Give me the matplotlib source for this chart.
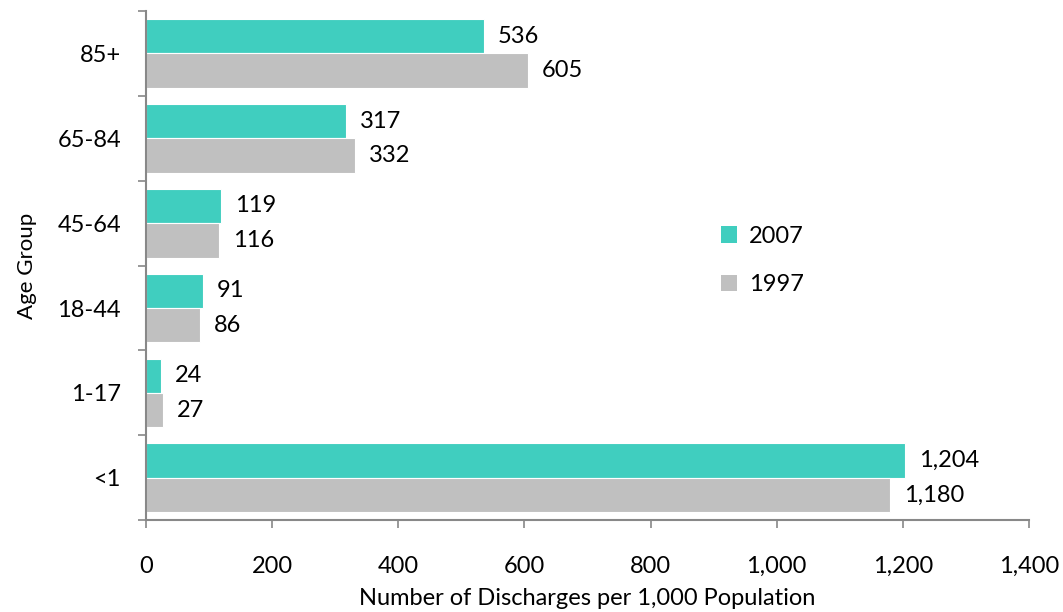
import matplotlib.pyplot as plt
import numpy as np
from matplotlib.patches import Patch

plt.rcParams['font.family'] = ['Lato', 'DejaVu Sans']

groups = ['<1', '1-17', '18-44', '45-64', '65-84', '85+']
vals_2007 = [1204, 24, 91, 119, 317, 536]
vals_1997 = [1180, 27, 86, 116, 332, 605]
teal = '#40CEBF'
grey = '#C0C0C0'
fs = 17

fig = plt.figure(figsize=(10.63, 6.12), dpi=100)
ax = fig.add_axes([0.1373, 0.150, 0.8307, 0.832])

y = np.arange(len(groups))
h = 0.405
b1 = ax.barh(y + h / 2, vals_2007, height=h, color=teal, edgecolor='white', linewidth=0.8)
b2 = ax.barh(y - h / 2, vals_1997, height=h, color=grey, edgecolor='white', linewidth=0.8)

for bars, vals in [(b1, vals_2007), (b2, vals_1997)]:
    for r, v in zip(bars, vals):
        ax.annotate(f'{v:,}', (r.get_width(), r.get_y() + r.get_height() / 2),
                    xytext=(10, 0), textcoords='offset points', va='center', ha='left', fontsize=fs)

ax.set_xlim(0, 1400)
ax.set_ylim(-0.5, len(groups) - 0.5)
ax.set_xticks(np.arange(0, 1401, 200))
ax.set_xticklabels([f'{t:,}' for t in range(0, 1401, 200)])
ax.set_yticks(y)
ax.set_yticklabels(groups)
ax.set_yticks(np.arange(-0.5, len(groups)), minor=True)
ax.tick_params(axis='y', which='major', length=0, pad=18, labelsize=fs)
ax.tick_params(axis='y', which='minor', length=6, width=1.2, color='#888888')
ax.tick_params(axis='x', which='major', length=6, width=1.2, color='#888888', pad=20, labelsize=fs)

for s in ['top', 'right']:
    ax.spines[s].set_visible(False)
for s in ['left', 'bottom']:
    ax.spines[s].set_color('#888888')
    ax.spines[s].set_linewidth(1.5)

ax.set_xlabel('Number of Discharges per 1,000 Population', fontsize=fs, labelpad=8)
ax.set_ylabel('Age Group', fontsize=16)
ax.yaxis.set_label_coords(-0.123, 0.5)

handles = [Patch(facecolor=teal, label='2007'), Patch(facecolor=grey, label='1997')]
ax.legend(handles=handles, loc='center left', bbox_to_anchor=(0.627, 0.51), frameon=False,
          fontsize=fs, labelspacing=1.15, handlelength=0.7, handleheight=0.7, handletextpad=0.5)

fig.savefig('out.png', dpi=100)
